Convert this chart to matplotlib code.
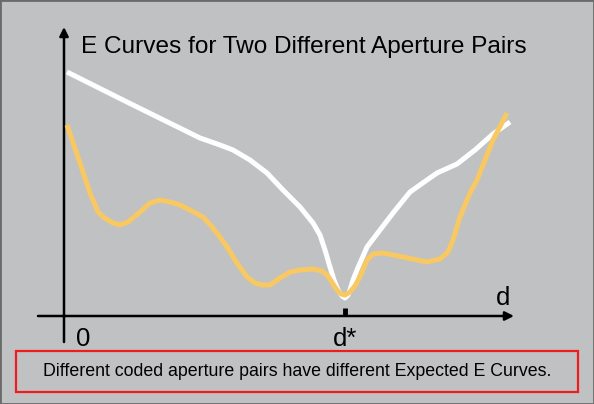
import matplotlib.pyplot as plt
from matplotlib.patches import Rectangle

plt.rcParams['font.family'] = ['Liberation Sans', 'DejaVu Sans']

# E curves (d measured from the origin, E above the d axis)
white_d = [3, 63, 136, 156, 169, 186, 203, 219, 236, 249, 256, 261, 266, 270, 274, 278,
           281, 284, 286, 289, 293, 303, 316, 329, 346, 363, 373, 393, 411, 429, 446]
white_E = [244, 214, 178, 171, 166, 156, 143, 126, 109, 93, 81, 66, 49, 36, 26, 20,
           18, 21, 26, 36, 46, 69, 86, 103, 124, 136, 143, 152, 166, 182, 194]

orange_d = [3, 16, 26, 34, 39, 49, 56, 64, 76, 86, 96, 106, 116, 126, 139, 148, 156,
            163, 173, 183, 191, 198, 206, 216, 226, 236, 249, 258, 264, 269, 273, 277,
            281, 286, 291, 296, 303, 309, 319, 339, 363, 376, 384, 389, 396, 406, 413,
            421, 429, 443]
orange_E = [191, 153, 123, 104, 99, 93, 91, 94, 104, 113, 116, 114, 111, 106, 99, 89, 79,
            69, 53, 39, 33, 31, 31, 38, 44, 46, 47, 45, 40, 32, 26, 22,
            21, 24, 30, 39, 56, 62, 63, 59, 54, 57, 64, 76, 99, 123, 136,
            156, 176, 203]

d_star = 281
title = "E Curves for Two Different Aperture Pairs"
caption = "Different coded aperture pairs have different Expected E Curves."

bg = "#c0c1c3"
fig = plt.figure(figsize=(5.94, 4.04), dpi=100, facecolor=bg)
ax = fig.add_axes([0, 0, 1, 1])
ax.set_facecolor(bg)
ax.set_xlim(-64, 530)
ax.set_ylim(-88, 316)
ax.axis("off")

# curves
ax.plot(white_d, white_E, color="white", lw=3.6, solid_capstyle="butt",
        solid_joinstyle="round", zorder=3)
ax.plot(orange_d, orange_E, color="#f8c863", lw=3.6, solid_capstyle="butt",
        solid_joinstyle="round", zorder=4)

# axes with arrows
arrow = dict(arrowstyle="-|>", color="black", lw=1.8, mutation_scale=13,
             shrinkA=0, shrinkB=0)
ax.annotate("", xy=(0, 289), xytext=(0, -26), arrowprops=arrow, zorder=2)
ax.annotate("", xy=(450, 0), xytext=(-26, 0), arrowprops=arrow, zorder=2)
ax.plot([d_star, d_star], [0, 8], color="black", lw=3.5, solid_capstyle="butt", zorder=2)

# labels
ax.text(19, -23, "0", fontsize=18.5, ha="center", va="center")
ax.text(d_star, -23, "d*", fontsize=18.5, ha="center", va="center")
ax.text(439, 18, "d", fontsize=18.5, ha="center", va="center")
ax.text(240, 269, title, fontsize=17.6, ha="center", va="center")

# caption box
ax.add_patch(Rectangle((-48, -76), 562, 41, fill=False, edgecolor="#ee1c1c", lw=1.6))
ax.text(233, -56, caption, fontsize=12.8, ha="center", va="center")

# figure border
fig.patches.append(Rectangle((0, 0), 1, 1, transform=fig.transFigure, fill=False,
                             edgecolor="#6a6a6a", lw=2))

fig.savefig("out.png", dpi=100, facecolor=bg)
